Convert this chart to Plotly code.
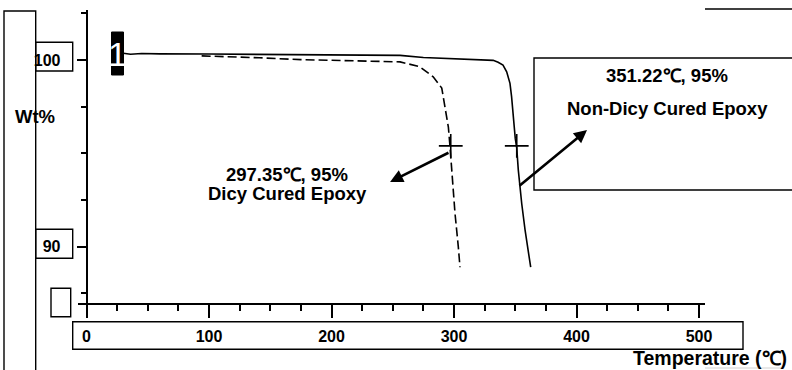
import plotly.graph_objects as go

# ---- data ----
non_dicy_temp = [30, 36, 45, 60, 100, 150, 200, 230, 256, 275, 300, 320, 332, 336,
                 340, 343, 345.7, 347, 348.4, 350, 351.2, 352.5, 355.3, 358, 362.6]
non_dicy_wt = [100.36, 100.31, 100.35, 100.33, 100.32, 100.31, 100.30, 100.28, 100.25,
               100.13, 100.06, 100.02, 99.98, 99.88, 99.73, 99.37, 98.75, 98.04, 96.96,
               95.8, 95.3, 94.1, 92.3, 90.9, 88.9]

dicy_temp = [94, 120, 141, 175, 210, 240, 256, 272, 283, 290, 292.7, 295.4, 296.7,
             298.1, 300.8, 303.5, 304.9]
dicy_wt = [100.22, 100.17, 100.12, 100.02, 99.96, 99.92, 99.90, 99.64, 99.1, 98.5,
           97.5, 96.4, 95.4, 94.1, 91.8, 90.0, 88.9]

marker_temp = [297.35, 351.22]
marker_wt = [95.4, 95.4]

x_ticks = [0, 100, 200, 300, 400, 500]
x_tick_text = ["0", "100", "200", "300", "400", "500"]
y_ticks = [90, 100]
y_tick_text = ["90", "100"]

dicy_label = ["297.35℃, 95%", "Dicy Cured Epoxy"]
non_dicy_label = ["351.22℃, 95%", "Non-Dicy Cured Epoxy"]

# ---- layout helpers (pixel -> paper) ----
WIDTH, HEIGHT = 792, 370
L, R, T, B = 78, 705, 10, 315
PW, PH = R - L, B - T


def px(x):
    return (x - L) / PW


def py(y):
    return (B - y) / PH


FONT = "Liberation Sans, Arial, sans-serif"

fig = go.Figure()
fig.add_trace(go.Scatter(x=dicy_temp, y=dicy_wt, mode="lines",
                         line=dict(color="black", width=1.6, dash="9px,4px"),
                         hoverinfo="skip"))
fig.add_trace(go.Scatter(x=non_dicy_temp, y=non_dicy_wt, mode="lines",
                         line=dict(color="black", width=1.6), hoverinfo="skip"))
fig.add_trace(go.Scatter(x=marker_temp, y=marker_wt, mode="markers",
                         marker=dict(symbol="cross-thin", size=17,
                                     line=dict(color="black", width=1.6)),
                         hoverinfo="skip"))

shapes = []


def rect(x0, y0, x1, y1, fill=None, w=1.4):
    shapes.append(dict(type="rect", xref="paper", yref="paper",
                       x0=px(x0), x1=px(x1), y0=py(y1), y1=py(y0),
                       line=dict(color="black", width=w),
                       fillcolor=fill if fill else "rgba(0,0,0,0)"))


rect(4, 11, 35.7, 380)            # tall left panel
rect(35.7, 42.3, 72.7, 71)        # "100" box
rect(35.7, 229.3, 72.7, 258.3)    # "90" box
rect(51, 288.3, 70.7, 316.7)      # small empty box
rect(72.7, 321.7, 743, 349.3)     # x tick label box
rect(534, 58, 810, 190)           # Non-Dicy label box
rect(111.5, 32, 123.5, 75, fill="black", w=1)  # black "1" box
shapes.append(dict(type="line", xref="paper", yref="paper",
                   x0=px(705), x1=px(792), y0=py(9), y1=py(9),
                   line=dict(color="black", width=1.6)))
shapes.append(dict(type="line", xref="paper", yref="paper",
                   x0=px(705), x1=px(783), y0=py(368), y1=py(368),
                   line=dict(color="#d0d0d0", width=1)))

annotations = []


def text(s, x, y, size=18.5, color="black", weight="bold", family=FONT):
    annotations.append(dict(text=s, xref="paper", yref="paper", x=px(x), y=py(y),
                            xanchor="center", yanchor="middle", showarrow=False,
                            font=dict(family=family, size=size, color=color,
                                      weight=weight)))


text(dicy_label[0], 287, 174.5)
text(dicy_label[1], 287, 193)
text(non_dicy_label[0], 667, 75)
text(non_dicy_label[1], 667, 108.3)
text("Wt%", 35, 116.7, size=18.5)
text("Temperature (℃)", 710, 357.5, size=19.5)
text("1", 117.5, 53.5, size=34, color="white", weight="normal",
     family="Liberation Sans Narrow, Liberation Sans, sans-serif")

# arrows (head near the text, tail at the curve point)
annotations.append(dict(x=247.8, y=93.47, ax=296.7, ay=95.07, xref="x", yref="y",
                        axref="x", ayref="y", text="", showarrow=True,
                        arrowhead=2, arrowsize=1.0, arrowwidth=2.6,
                        arrowcolor="black"))
annotations.append(dict(x=408.6, y=96.25, ax=352.2, ay=93.2, xref="x", yref="y",
                        axref="x", ayref="y", text="", showarrow=True,
                        arrowhead=2, arrowsize=1.0, arrowwidth=2.6,
                        arrowcolor="black"))

x_lo = (L - 86.5) / 1.225
x_hi = (R - 86.5) / 1.225
y_lo = 100 - (B - 60) / 18.67
y_hi = 100 - (T - 60) / 18.67

fig.update_layout(
    width=WIDTH, height=HEIGHT,
    margin=dict(l=L, r=WIDTH - R, t=T, b=HEIGHT - B, pad=0),
    paper_bgcolor="white", plot_bgcolor="white",
    showlegend=False,
    shapes=shapes, annotations=annotations,
    xaxis=dict(range=[x_lo, x_hi], anchor="free", position=py(304),
               showgrid=False, zeroline=False, automargin=False,
               showline=True, linecolor="black", linewidth=2,
               tickmode="array", tickvals=x_ticks, ticktext=x_tick_text,
               ticks="outside", ticklen=13, tickwidth=1.5, tickcolor="black",
               ticklabelstandoff=5,
               tickfont=dict(family=FONT, size=16, color="black", weight="bold"),
               minor=dict(tick0=0, dtick=25, ticks="outside", ticklen=6,
                          tickwidth=1.5, tickcolor="black", showgrid=False)),
    yaxis=dict(range=[y_lo, y_hi], anchor="free", position=px(86.7),
               showgrid=False, zeroline=False, automargin=False,
               showline=True, linecolor="black", linewidth=2,
               tickmode="array", tickvals=y_ticks, ticktext=y_tick_text,
               ticks="outside", ticklen=9, tickwidth=1.5, tickcolor="black",
               ticklabelstandoff=13,
               tickfont=dict(family=FONT, size=16, color="black", weight="bold"),
               minor=dict(tick0=0, dtick=2.5, ticks="outside", ticklen=5,
                          tickwidth=1.5, tickcolor="black", showgrid=False)),
)

fig.write_html("out.html", config={"displayModeBar": False},
               post_script="document.body.style.margin='0';"
                           "document.body.style.overflow='hidden';")
